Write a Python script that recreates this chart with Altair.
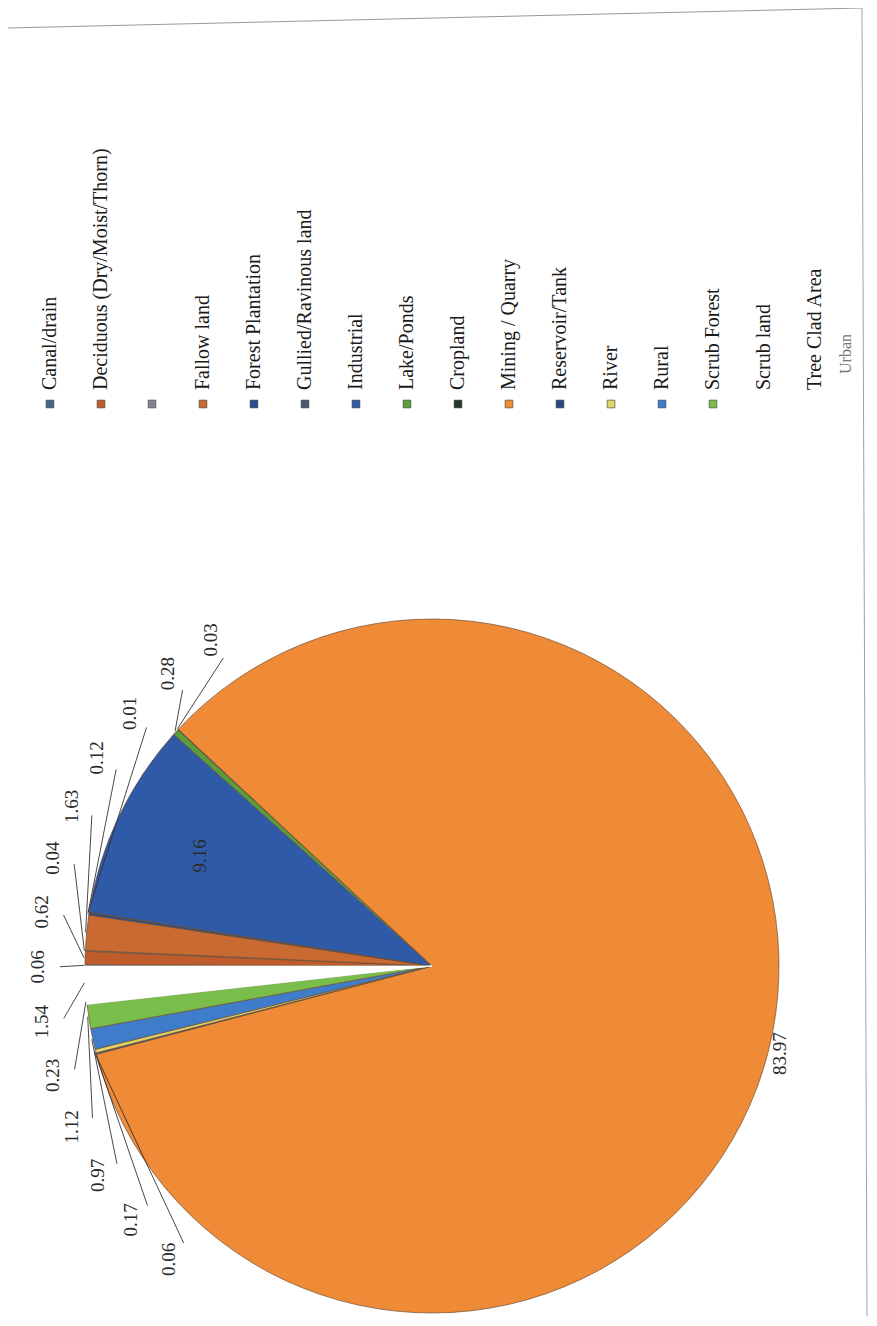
import math
import altair as alt
import pandas as pd

# ---------------- data ----------------
categories = ["Canal/drain", "Deciduous (Dry/Moist/Thorn)", "", "Fallow land",
              "Forest Plantation", "Gullied/Ravinous land", "Industrial", "Lake/Ponds",
              "Cropland", "Mining / Quarry", "Reservoir/Tank", "River", "Rural",
              "Scrub Forest", "Scrub land", "Tree Clad Area", "Urban"]
values = [0.06, 0.62, 0.04, 1.63, 0.12, 0.01, 9.16, 0.28, 0.03, 83.97,
          0.06, 0.17, 0.97, 1.12, 0.23, 1.54]
value_labels = ["0.06", "0.62", "0.04", "1.63", "0.12", "0.01", "9.16", "0.28", "0.03",
                "83.97", "0.06", "0.17", "0.97", "1.12", "0.23", "1.54"]
colors = ["#46658c", "#c05c2c", "#85858f", "#c96a32", "#2b4c8a", "#47566c", "#2e5aa8",
          "#5a9e3c", "#243624", "#ef8a36", "#2a4884", "#e2d36a", "#3f7cc9",
          "#79bd4a", "#ffffff", "#ffffff", "#ffffff"]
white_keys = ["c14", "c15", "c16"]

# ---------------- layout constants ----------------
M = 8
W, H = 869, 1316            # right / bottom edge used (screen px)
CX, CY, R = 432, 966, 347   # pie centre and radius (screen px)
LABEL_R = 394
SEP = 8.0                   # min angular separation of small labels (deg)

keys = [f"c{i}" for i in range(len(categories))]
total = sum(values)

xs = alt.Scale(domain=[M, W], range=[0, W - M])
ys = alt.Scale(domain=[M, H], range=[0, H - M])


def pt(offset_deg, r):
    a = math.radians(180 - offset_deg)
    return CX + r * math.cos(a), CY - r * math.sin(a)


# natural mid-angles (deg clockwise from 9 o'clock)
nat = {}
cum = 0.0
for i, v in enumerate(values):
    off = 360.0 * (cum + v / 2) / total
    if off > 180:
        off -= 360
    nat[i] = off
    cum += v

small = [i for i, v in enumerate(values) if v < 5]
order = sorted(small, key=lambda i: nat[i])
pos = {i: nat[i] for i in small}
for _ in range(2000):
    for a, b in zip(order, order[1:]):
        gap = pos[b] - pos[a]
        if gap < SEP - 1e-9:
            d = (SEP - gap) / 2
            pos[a] -= d
            pos[b] += d

lab_rows, lead_rows = [], []
for i, v in enumerate(values):
    if i in pos:
        lx, ly = pt(pos[i], LABEL_R)
        x1, y1 = pt(nat[i], R + 1)
        x2, y2 = pt(pos[i], LABEL_R - 22)
        lead_rows.append(dict(x=x1, y=y1, x2=x2, y2=y2))
    elif v > 50:
        lx, ly = pt(nat[i], R + 12)
    else:
        lx, ly = pt(nat[i], 0.74 * R)
    lab_rows.append(dict(x=lx, y=ly, text=value_labels[i]))

df_pie = pd.DataFrame({"key": keys[:len(values)], "value": values,
                       "idx": list(range(len(values)))})
df_lab = pd.DataFrame(lab_rows)
df_lead = pd.DataFrame(lead_rows)

# legend (rotated, along the top)
LEG_X0, LEG_DX = 50, 51
leg_x = [LEG_X0 + LEG_DX * k for k in range(len(categories) - 1)]
leg_x.append(leg_x[-1] + 31)
df_leg = pd.DataFrame({"key": keys[:-1], "name": categories[:-1], "x": leg_x[:-1]})
df_urban = pd.DataFrame({"name": [categories[-1]], "x": [leg_x[-1]]})

color_scale = alt.Scale(domain=keys, range=colors)
is_white = alt.FieldOneOfPredicate(field="key", oneOf=white_keys)

pie = alt.Chart(df_pie).mark_arc(outerRadius=R, strokeWidth=0.7).encode(
    theta=alt.Theta("value:Q", stack=True,
                    scale=alt.Scale(range=[1.5 * math.pi, 3.5 * math.pi])),
    order=alt.Order("idx:Q", sort="ascending"),
    color=alt.Color("key:N", scale=color_scale, legend=None),
    stroke=alt.condition(is_white, alt.value("#ffffff"), alt.value("#6e5036")),
    x=alt.value(CX - M), y=alt.value(CY - M),
)

leaders = alt.Chart(df_lead).mark_rule(color="#333333", strokeWidth=0.9).encode(
    x=alt.X("x:Q", scale=xs, axis=None), y=alt.Y("y:Q", scale=ys, axis=None),
    x2="x2:Q", y2="y2:Q")

labels = alt.Chart(df_lab).mark_text(angle=270, align="center", baseline="middle",
                                     font="Liberation Serif", fontSize=19,
                                     color="#2a2a2a").encode(
    x=alt.X("x:Q", scale=xs, axis=None), y=alt.Y("y:Q", scale=ys, axis=None),
    text="text:N")

leg_marks = alt.Chart(df_leg).mark_square(size=60, strokeWidth=0.6, opacity=1,
                                          filled=True).encode(
    x=alt.X("x:Q", scale=xs, axis=None), y=alt.value(404 - M),
    color=alt.Color("key:N", scale=color_scale, legend=None),
    stroke=alt.condition(is_white, alt.value("#ffffff"), alt.value("#3a3a3a")))

leg_text = alt.Chart(df_leg).mark_text(angle=270, align="left", baseline="middle",
                                       font="Liberation Serif", fontSize=20,
                                       color="#1a1a1a").encode(
    x=alt.X("x:Q", scale=xs, axis=None), y=alt.value(390 - M), text="name:N")

urban_text = alt.Chart(df_urban).mark_text(angle=270, align="left", baseline="middle",
                                           font="Liberation Serif", fontSize=16,
                                           color="#777777").encode(
    x=alt.X("x:Q", scale=xs, axis=None), y=alt.value(374 - M), text="name:N")

frame_top = alt.Chart(df_urban).mark_rule(color="#9a9a9a", strokeWidth=1).encode(
    x=alt.value(0), x2=alt.value(854), y=alt.value(20), y2=alt.value(0))
frame_right = alt.Chart(df_urban).mark_rule(color="#a0a0a0", strokeWidth=1).encode(
    x=alt.value(854), x2=alt.value(859), y=alt.value(0), y2=alt.value(H - M))

chart = alt.layer(frame_top, frame_right, pie, leaders, labels, leg_marks, leg_text,
                  urban_text).properties(
    width=W - M, height=H - M, padding=0,
    autosize=alt.AutoSizeParams(type="none"),
).configure_view(stroke=None)

chart.save("out.html", embed_options={"renderer": "svg", "actions": False})
